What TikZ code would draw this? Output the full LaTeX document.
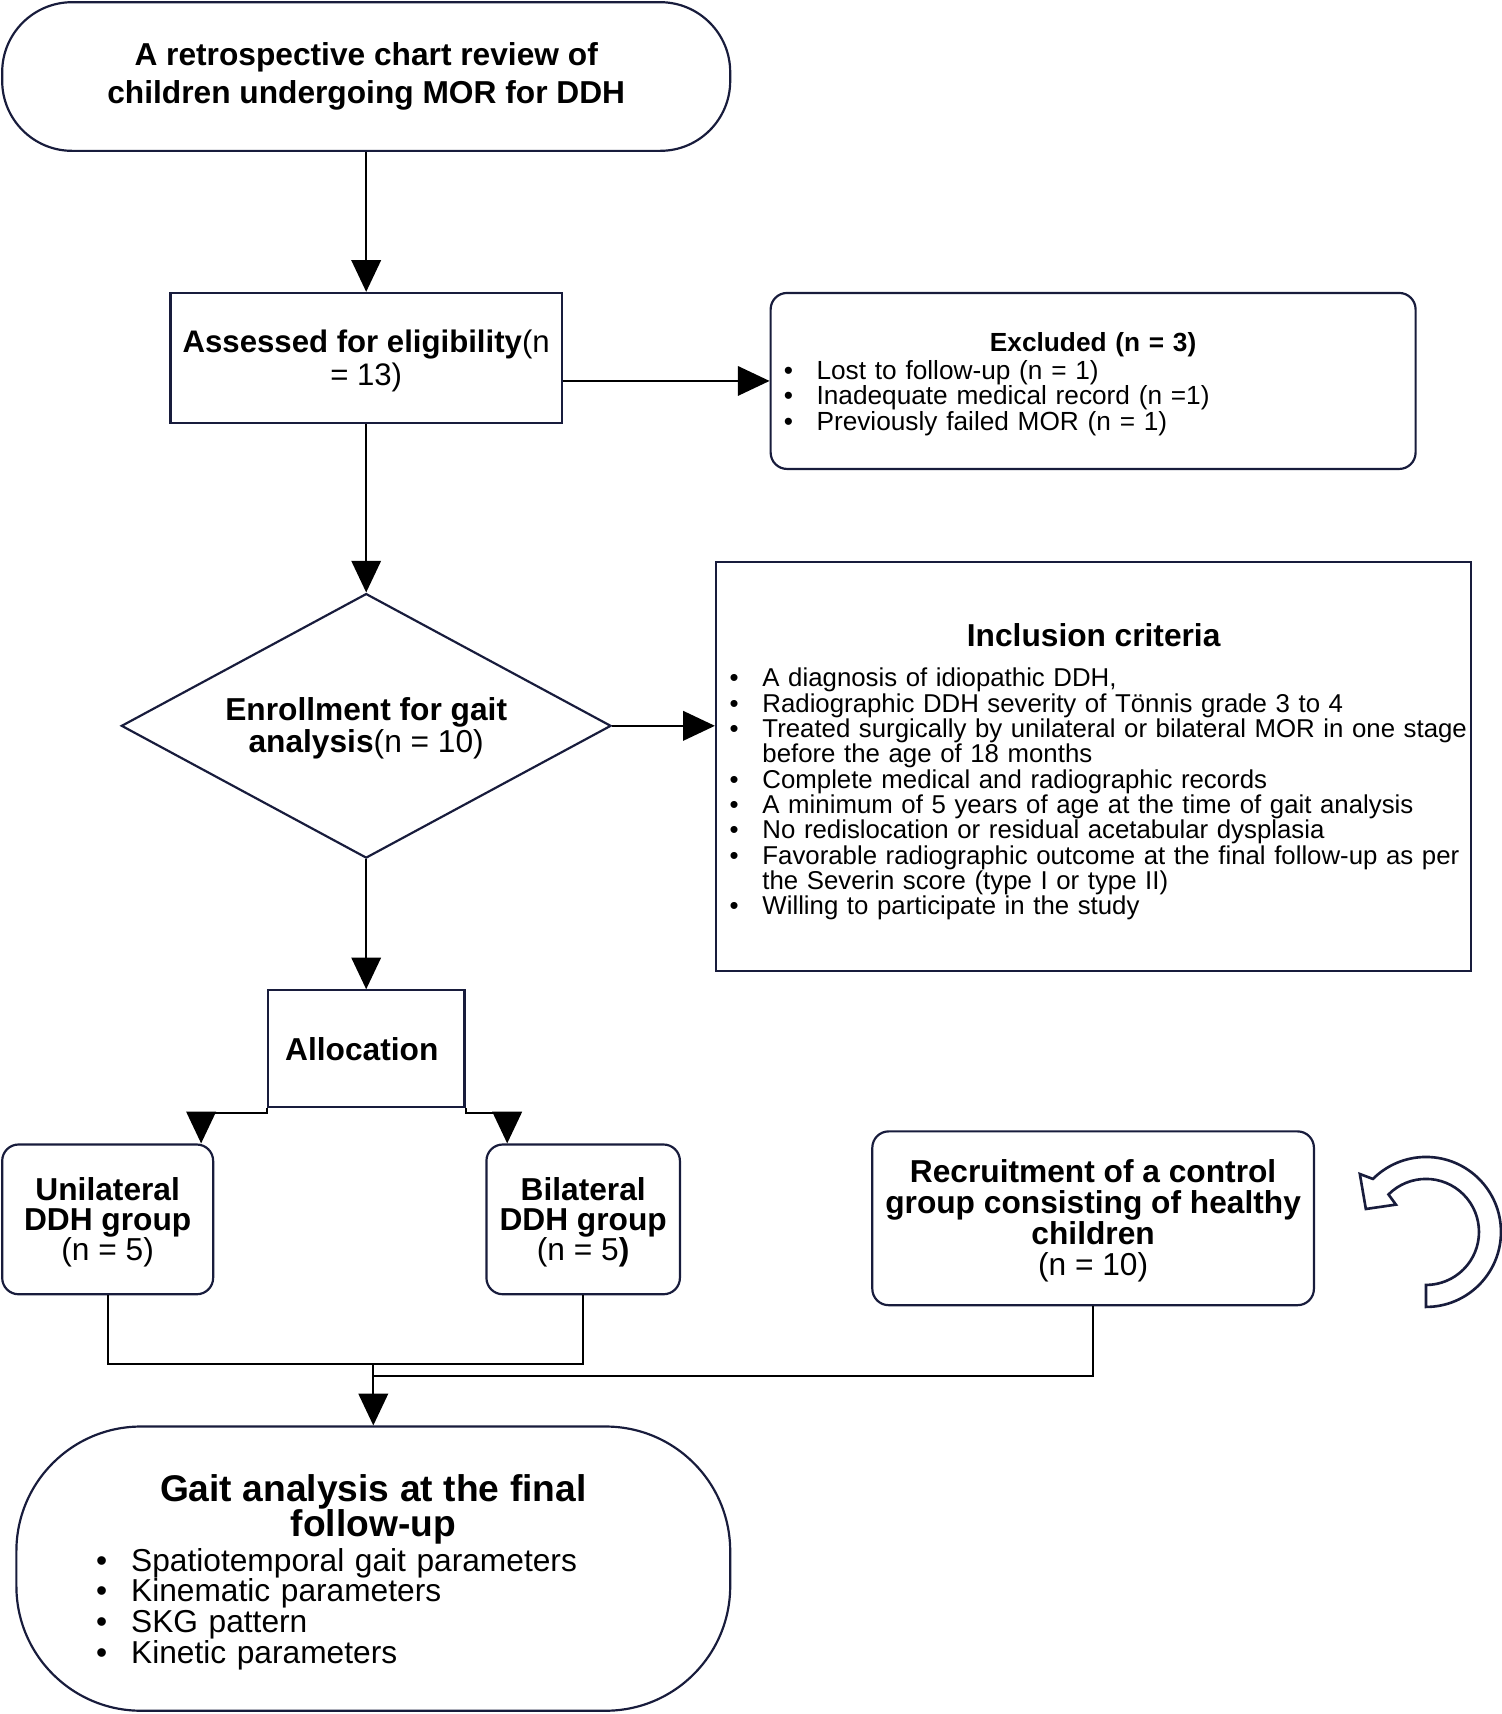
\documentclass[tikz,border=0pt]{standalone}
\usepackage{fontspec}
\setmainfont{Liberation Sans}
\definecolor{BoxLine}{RGB}{24,28,60}
\usetikzlibrary{arrows.meta, shapes.geometric, calc}
\tikzset{
    box/.style={draw=BoxLine, line width=2pt, align=center, inner sep=0pt,
        font=\fontsize{29}{28}\selectfont},
    round box/.style={box, rounded corners=15pt},
    arrow/.style={line width=1.7pt, -{Triangle[length=29pt, width=27pt]}},
    link/.style={line width=1.7pt}
}
\newcommand{\bul}[1][30pt]{\par\noindent\hangindent=#1\hangafter=1\makebox[#1][l]{\textbullet}}
\newcommand{\topstrut}[1][26pt]{\rule{0pt}{#1}}
\lineskiplimit=-30pt

\begin{document}
\begin{tikzpicture}[x={(1pt,0pt)}, y={(0pt,-1pt)}]

\useasboundingbox (0,0) rectangle (1374,1568);

% Columna principal
\node[box, rounded corners=64pt, minimum width=666pt, minimum height=136pt,
    font=\bfseries\fontsize{29}{35}\selectfont] (review) at (335,70)
    {A retrospective chart review of\\children undergoing MOR for DDH};

\node[box, minimum width=358pt, minimum height=119pt,
    font=\fontsize{28.5}{30}\selectfont] (assess) at (335,327.5)
    {\topstrut\textbf{Assessed for eligibility}(n\\= 13)};

\node[draw=BoxLine, line width=2pt, diamond, aspect=1.85, minimum width=448pt,
    minimum height=242pt, inner sep=0pt, align=center,
    font=\fontsize{29}{29}\selectfont] (enrol) at (335,664)
    {\topstrut\textbf{Enrollment for gait}\\\textbf{analysis}(n = 10)};

\node[box, minimum width=180pt, minimum height=107pt,
    font=\bfseries\fontsize{29}{29}\selectfont] (alloc) at (335,959.5) {Allocation\hspace*{8pt}};

\node[round box, minimum width=193pt, minimum height=137pt,
    font=\fontsize{29}{27.5}\selectfont] (uni) at (98.5,1115.5)
    {\topstrut\textbf{Unilateral}\\\textbf{DDH group}\\(n = 5)};

\node[round box, minimum width=177pt, minimum height=137pt,
    font=\fontsize{29}{27.5}\selectfont] (bi) at (533.5,1115.5)
    {\topstrut\textbf{Bilateral}\\\textbf{DDH group}\\(n = 5\textbf{)}};

\node[box, rounded corners=114pt, minimum width=653pt, minimum height=260pt,
    text width=507pt, inner xsep=73pt, align=left,
    font=\fontsize{29}{28}\selectfont] (gait) at (341.5,1435)
    {{\centering\bfseries\fontsize{34}{32}\selectfont\topstrut[30.8pt]Gait analysis at the final\\follow-up\par}
    \vspace{3pt}
    \bul[32pt]Spatiotemporal gait parameters
    \bul[32pt]Kinematic parameters
    \bul[32pt]SKG pattern
    \bul[32pt]Kinetic parameters\par};

% Cuadros de la derecha
\node[round box, minimum width=590pt, minimum height=161pt, text width=566pt,
    inner xsep=12pt, align=left, font=\fontsize{24}{23.3}\selectfont] (excl) at (1000,348.5)
    {{\centering\bfseries\topstrut[23.5pt]Excluded (n = 3)\par}
    \vspace{1.7pt}
    \bul Lost to follow-up (n = 1)
    \bul Inadequate medical record (n =1)
    \bul Previously failed MOR (n = 1)\par};

\node[box, minimum width=691pt, minimum height=374pt, text width=690pt,
    inner xsep=0.5pt, align=left, font=\fontsize{23.6}{23.2}\selectfont] (incl) at (1000.5,701)
    {{\centering\bfseries\fontsize{29}{29}\selectfont\topstrut[31pt]Inclusion criteria\par}
    \vspace{13.8pt}
    \leftskip=12pt
    \bul A diagnosis of idiopathic DDH,
    \bul Radiographic DDH severity of Tönnis grade 3 to 4
    \bul Treated surgically by unilateral or bilateral MOR in one stage\newline before the age of 18 months
    \bul Complete medical and radiographic records
    \bul A minimum of 5 years of age at the time of gait analysis
    \bul No redislocation or residual acetabular dysplasia
    \bul Favorable radiographic outcome at the final follow-up as per\newline the Severin score (type I or type II)
    \bul Willing to participate in the study\par};

\node[round box, minimum width=404pt, minimum height=159pt,
    font=\fontsize{29}{28.3}\selectfont] (rec) at (1000,1114.5)
    {\topstrut\textbf{Recruitment of a control}\\\textbf{group consisting of healthy}\\\textbf{children}\\(n = 10)};

% Flechas
\draw[arrow] (review.south) -- (assess.north);
\draw[arrow] (assess.east |- excl.west) -- (excl.west);
\draw[arrow] (assess.south) -- (enrol.north);
\draw[arrow] (enrol.east) -- (enrol.east -| incl.west);
\draw[arrow] (enrol.south) -- (alloc.north);

% Ramas de la asignacion
\coordinate (uni in) at ($(uni.north east)+(-12,0)$);
\coordinate (bi in) at ($(bi.north west)+(20,0)$);
\draw[arrow] (alloc.south west) -- ++(0,4) -| (uni in);
\draw[arrow] (alloc.south east) -- ++(0,4) -| (bi in);

% Union de los grupos hacia el analisis
\draw[link] (uni.south) -- ++(0,63) coordinate (groups) -| (bi.south);
\draw[link] (rec.south) |- ([yshift=-11pt]gait.north |- groups);
\draw[arrow] (gait.north |- groups) -- (gait.north);

% Flecha circular
\draw[BoxLine, line width=2.4pt, fill=white]
    (1304.5,1195.6) arc[start angle=90, end angle=-135, radius=68.6]
    -- (1244,1074) -- (1249.5,1106) -- (1277,1102) -- (1270.2,1092.7)
    arc[start angle=-135, end angle=90, radius=48.5] -- cycle;

\end{tikzpicture}
\end{document}
